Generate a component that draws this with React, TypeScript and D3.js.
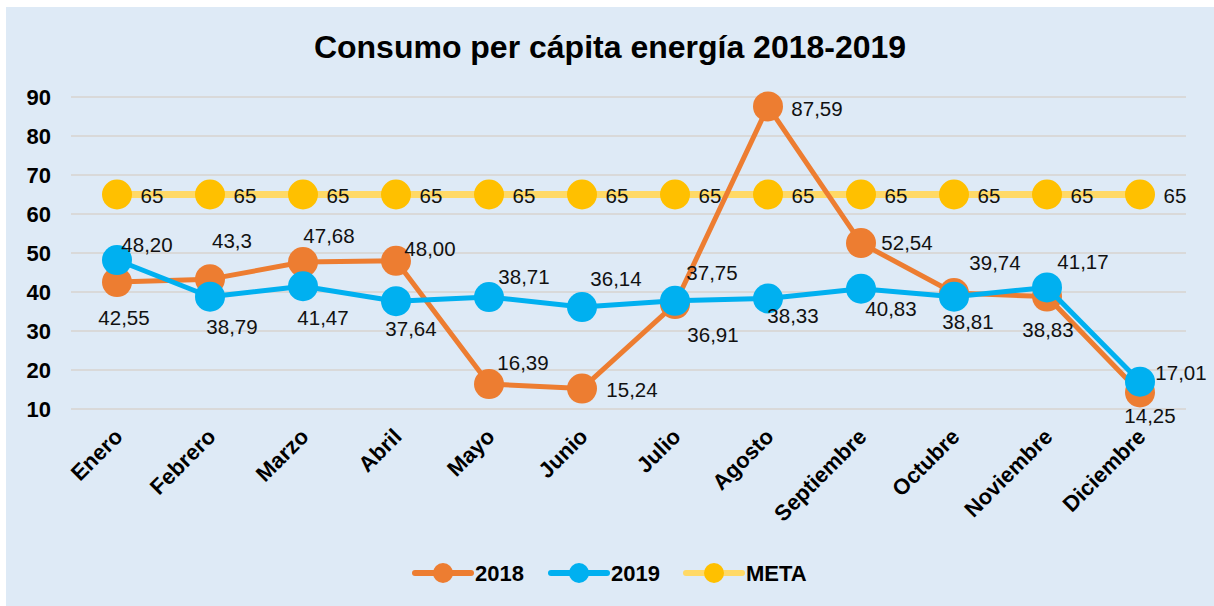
import React from 'react';
import * as d3 from 'd3';

const months = [
    'Enero', 'Febrero', 'Marzo', 'Abril', 'Mayo', 'Junio', 'Julio',
    'Agosto', 'Septiembre', 'Octubre', 'Noviembre', 'Diciembre'
];

const values2018 = [42.55, 43.3, 47.68, 48.0, 16.39, 15.24, 36.91, 87.59, 52.54, 39.74, 38.83, 14.25];
const values2019 = [48.2, 38.79, 41.47, 37.64, 38.71, 36.14, 37.75, 38.33, 40.83, 38.81, 41.17, 17.01];
const valuesMeta = [65, 65, 65, 65, 65, 65, 65, 65, 65, 65, 65, 65];

// label texts as printed on the chart
const labels2018 = ['42,55', '43,3', '47,68', '48,00', '16,39', '15,24', '36,91', '87,59', '52,54', '39,74', '38,83', '14,25'];
const labels2019 = ['48,20', '38,79', '41,47', '37,64', '38,71', '36,14', '37,75', '38,33', '40,83', '38,81', '41,17', '17,01'];

const yTicks = [10, 20, 30, 40, 50, 60, 70, 80, 90];

// label offsets from their point (manual placement like the original)
const offsets2018 = [[7, 36], [22, -39], [26, -26], [34, -12], [34, -21], [50, 1], [38, 31], [49, 2], [46, 0], [41, -30], [1, 33], [10, 23]];
const offsets2019 = [[30, -15], [22, 30], [20, 31], [15, 27], [35, -20], [34, -28], [37, -28], [25, 17], [30, 20], [14, 25], [36, -26], [41, -9]];

const FONT = '"Liberation Sans", Arial, sans-serif';
const ORANGE = '#ed7d31';
const BLUE = '#00b0f0';
const GOLD = '#ffc000';
const GOLD_LINE = '#ffd966';

const App = () => {
    const width = 1214;
    const height = 606;

    const x = d3.scalePoint()
        .domain(months)
        .range([70.5, 1186.5])
        .padding(0.5);

    const y = d3.scaleLinear()
        .domain([10, 90])
        .range([409, 97]);

    const line = d3.line()
        .x(d => x(d[0]))
        .y(d => y(d[1]));

    const series = [
        { name: 'META', values: valuesMeta, color: GOLD, lineColor: GOLD_LINE, lineWidth: 7 },
        { name: '2018', values: values2018, color: ORANGE, lineColor: ORANGE, lineWidth: 5 },
        { name: '2019', values: values2019, color: BLUE, lineColor: BLUE, lineWidth: 5 },
    ];

    const legend = [
        { name: '2018', color: ORANGE, lineColor: ORANGE, x: 415 },
        { name: '2019', color: BLUE, lineColor: BLUE, x: 551 },
        { name: 'META', color: GOLD, lineColor: GOLD_LINE, x: 686 },
    ];

    return (
        <svg width={width} height={height} style={{ position: 'absolute', left: 0, top: 0 }}>
            <rect x={0} y={0} width={width} height={height} fill="#ffffff" />
            <rect x={6} y={7} width={width - 6} height={height - 7} fill="#deeaf6" />

            <text x={610} y={58} textAnchor="middle" fontFamily={FONT} fontWeight="bold" fontSize={32} fill="#000">
                Consumo per cápita energía 2018-2019
            </text>

            {/* grid + y axis */}
            {yTicks.map(t => (
                <g key={t}>
                    <line x1={71} x2={1186} y1={y(t)} y2={y(t)} stroke="#d9d9d9" strokeWidth={2} />
                    <text x={51} y={y(t)} dy="0.36em" textAnchor="end" fontFamily={FONT} fontWeight="bold" fontSize={22} fill="#000">
                        {t}
                    </text>
                </g>
            ))}

            {/* x axis labels */}
            {months.map(m => (
                <text
                    key={m}
                    transform={`translate(${x(m) + 7},${438}) rotate(-45)`}
                    textAnchor="end"
                    fontFamily={FONT}
                    fontWeight="bold"
                    fontSize={22}
                    fill="#000"
                >
                    {m}
                </text>
            ))}

            {/* series */}
            {series.map(s => {
                const pts = months.map((m, i) => [m, s.values[i]]);
                return (
                    <g key={s.name}>
                        <path d={line(pts)} fill="none" stroke={s.lineColor} strokeWidth={s.lineWidth} strokeLinejoin="round" />
                        {pts.map(p => (
                            <circle key={p[0]} cx={x(p[0])} cy={y(p[1])} r={15} fill={s.color} />
                        ))}
                    </g>
                );
            })}

            {/* data labels */}
            {months.map((m, i) => (
                <g key={m} fontFamily={FONT} fontSize={20.5} fill="#111" textAnchor="middle">
                    <text x={x(m) + 35} y={y(valuesMeta[i]) + 1} dy="0.36em">{valuesMeta[i]}</text>
                    <text x={x(m) + offsets2018[i][0]} y={y(values2018[i]) + offsets2018[i][1]} dy="0.36em">{labels2018[i]}</text>
                    <text x={x(m) + offsets2019[i][0]} y={y(values2019[i]) + offsets2019[i][1]} dy="0.36em">{labels2019[i]}</text>
                </g>
            ))}

            {/* legend */}
            {legend.map(l => (
                <g key={l.name}>
                    <line x1={l.x} x2={l.x + 56} y1={573} y2={573} stroke={l.lineColor} strokeWidth={6} strokeLinecap="round" />
                    <circle cx={l.x + 28} cy={573} r={10} fill={l.color} />
                    <text x={l.x + 60} y={573} dy="0.36em" fontFamily={FONT} fontWeight="bold" fontSize={22} fill="#000">
                        {l.name}
                    </text>
                </g>
            ))}
        </svg>
    );
};

export default App;
